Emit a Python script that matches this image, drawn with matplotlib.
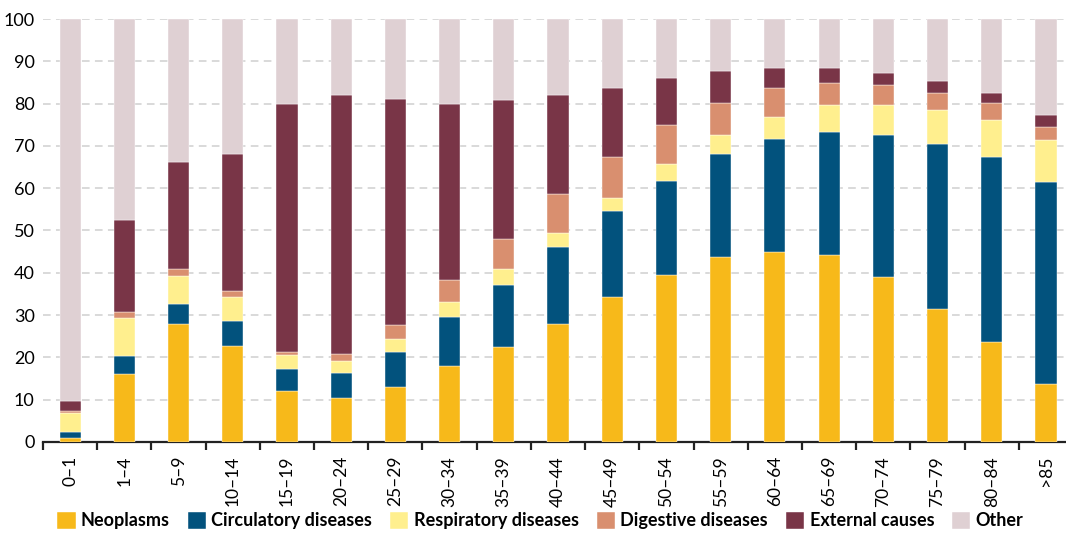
import matplotlib.pyplot as plt
import numpy as np

plt.rcParams['font.family'] = ['Lato', 'DejaVu Sans']

ages = ["0–1", "1–4", "5–9", "10–14", "15–19", "20–24", "25–29", "30–34", "35–39",
        "40–44", "45–49", "50–54", "55–59", "60–64", "65–69", "70–74", "75–79",
        "80–84", ">85"]

# share of deaths (%) per cause
neoplasms = [1.0, 16.0, 28.0, 22.8, 12.1, 10.5, 12.9, 18.0, 22.4, 28.0, 34.3, 39.5,
             43.8, 45.0, 44.2, 39.1, 31.5, 23.6, 13.6]
circulatory = [1.4, 4.3, 4.7, 5.9, 5.1, 5.9, 8.3, 11.6, 14.7, 18.2, 20.3, 22.3,
               24.3, 26.7, 29.1, 33.5, 39.0, 43.8, 47.8]
respiratory = [4.5, 8.9, 6.5, 5.6, 3.3, 2.8, 3.2, 3.5, 3.7, 3.3, 3.2, 4.0,
               4.5, 5.2, 6.4, 7.1, 8.0, 8.7, 10.0]
digestive = [0.4, 1.6, 1.6, 1.3, 0.8, 1.6, 3.2, 5.3, 7.1, 9.1, 9.6, 9.1,
             7.5, 6.8, 5.2, 4.8, 4.0, 4.0, 3.1]
external = [2.3, 21.8, 25.4, 32.5, 58.7, 61.2, 53.6, 41.6, 32.9, 23.4, 16.3, 11.1,
            7.6, 4.7, 3.5, 2.7, 2.8, 2.4, 2.8]

series = [
    ("Neoplasms", neoplasms, "#F7B91A"),
    ("Circulatory diseases", circulatory, "#02527D"),
    ("Respiratory diseases", respiratory, "#FFEF8E"),
    ("Digestive diseases", digestive, "#D98F6F"),
    ("External causes", external, "#793547"),
]
known = np.sum([s[1] for s in series], axis=0)
other = 100 - known
series.append(("Other", list(other), "#DFD0D3"))

fig = plt.figure(figsize=(10.66, 5.34), dpi=100)
ax = fig.add_axes([43 / 1066, 1 - 442 / 534, 1 - 43 / 1066, 423 / 534])

x = np.arange(len(ages))
bottom = np.zeros(len(ages))
for name, vals, col in series:
    ax.bar(x, vals, width=0.39, bottom=bottom, color=col, label=name,
           edgecolor="white", linewidth=0.3, zorder=3)
    bottom += np.array(vals)

ax.set_ylim(0, 100)
ax.set_xlim(-0.5, 18.37)
ax.set_yticks(range(0, 101, 10))
ax.yaxis.grid(True, color="#CFCFCF", linewidth=1.1, dashes=(5, 3.5), zorder=0)
ax.tick_params(axis="y", length=0, labelsize=13, pad=6)

for s in ["top", "right", "left"]:
    ax.spines[s].set_visible(False)
ax.spines["bottom"].set_linewidth(1.6)
ax.spines["bottom"].set_color("#222222")

ax.set_xticks(np.arange(-0.5, 18, 1.0))
ax.set_xticklabels([])
ax.tick_params(axis="x", which="major", length=6, width=1.6, color="#222222")
ax.set_xticks(x, minor=True)
ax.set_xticklabels(ages, minor=True, rotation=90, fontsize=12.5)
ax.tick_params(axis="x", which="minor", length=0, pad=10)

handles, labels = ax.get_legend_handles_labels()
fig.legend(handles, labels, loc="lower center", bbox_to_anchor=(0.507, -0.022),
           ncol=6, frameon=False, handlelength=1.0, handleheight=1.1,
           handletextpad=0.3, columnspacing=1.0,
           prop={"weight": "bold", "size": 13})

fig.savefig("out.png", dpi=100)
